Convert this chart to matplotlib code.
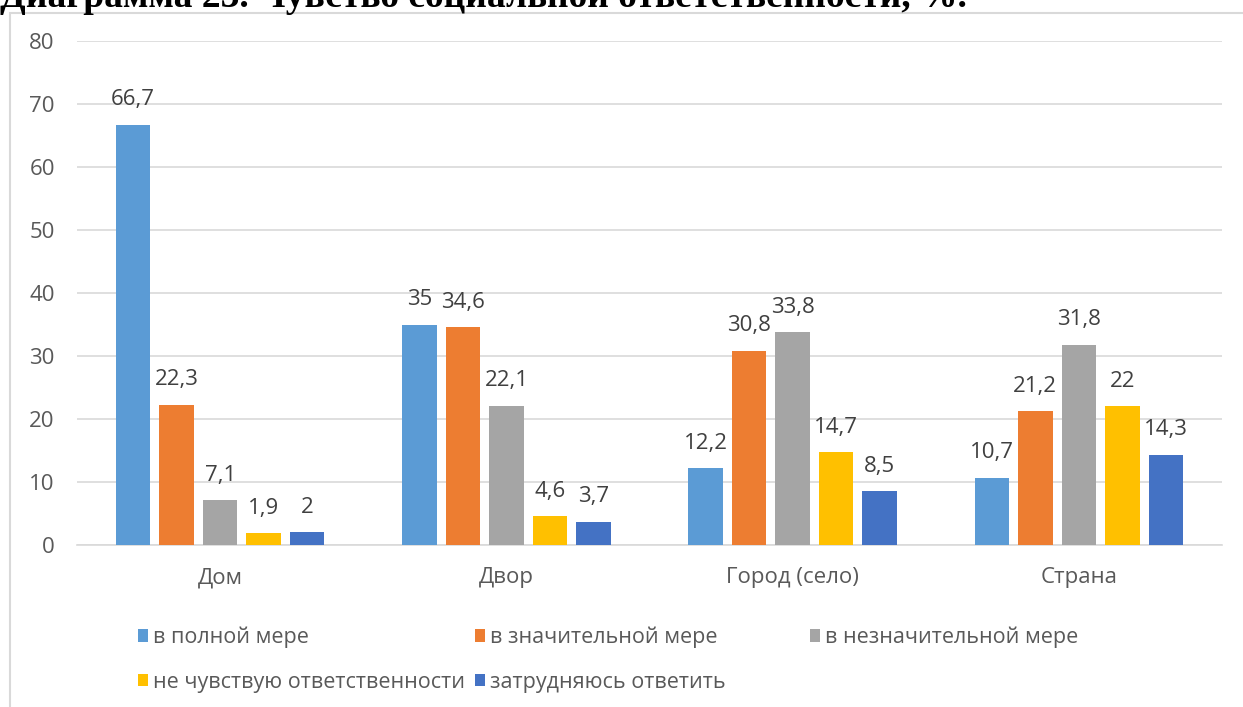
import numpy as np
import matplotlib.pyplot as plt
from matplotlib.patches import Rectangle

# Данные диаграммы
kategorii = ['Дом', 'Двор', 'Город (село)', 'Страна']
serii = ['в полной мере', 'в значительной мере', 'в незначительной мере',
         'не чувствую ответственности', 'затрудняюсь ответить']
polnaya = [66.7, 35, 12.2, 10.7]
znachit = [22.3, 34.6, 30.8, 21.2]
neznachit = [7.1, 22.1, 33.8, 31.8]
ne_chuvstvuyu = [1.9, 4.6, 14.7, 22]
zatrudnyayus = [2, 3.7, 8.5, 14.3]
znacheniya = [polnaya, znachit, neznachit, ne_chuvstvuyu, zatrudnyayus]
cveta = ['#5B9BD5', '#ED7D31', '#A5A5A5', '#FFC000', '#4472C4']

plt.rcParams['font.family'] = ['Open Sans', 'DejaVu Sans']
razmer = 16

fig = plt.figure(figsize=(12.43, 7.07), dpi=100)
W, H = 1243, 707

# Рамка области диаграммы
fig.patches.append(Rectangle((10 / W, -0.1), 1.2, 1 - 13 / H + 0.1,
                             transform=fig.transFigure, fill=False,
                             edgecolor='#D9D9D9', linewidth=1.5))

# Обрезанный заголовок сверху
fig.text(0, 1 - 7 / H, 'Диаграмма 23. Чувство социальной ответственности, %.',
         family='Liberation Serif', fontweight='bold', fontsize=27,
         va='baseline', ha='left', color='black')

ax = fig.add_axes([77 / W, 1 - 545 / H, (1222 - 77) / W, (545 - 41) / H])

x = np.arange(len(kategorii))
shag = 0.152
shirina = 0.12
bary = []
for i, (vals, c) in enumerate(zip(znacheniya, cveta)):
    pos = x + (i - 2) * shag
    b = ax.bar(pos, vals, shirina, color=c, label=serii[i], zorder=3)
    bary.append(b)
    for p, v in zip(pos, vals):
        ax.text(p, v + 2.3, str(v).replace('.', ','), ha='center', va='bottom',
                fontsize=razmer, color='#404040')

ax.set_xlim(-0.5, 3.5)
ax.set_ylim(0, 80)
ax.set_yticks(range(0, 81, 10))
ax.set_xticks(x)
ax.set_xticklabels(kategorii)
ax.grid(axis='y', color='#D9D9D9', linewidth=1.2, zorder=0)
for s in ax.spines.values():
    s.set_visible(False)
ax.spines['bottom'].set_visible(True)
ax.spines['bottom'].set_color('#D9D9D9')
ax.spines['bottom'].set_linewidth(1.2)
ax.tick_params(axis='both', length=0, labelsize=razmer, labelcolor='#595959')
ax.tick_params(axis='y', pad=16)
ax.tick_params(axis='x', pad=16)

# Легенда: три колонки одинаковой ширины, заполнение по строкам
kolonki = [[0, 3], [1, 4], [2]]
x_kolonok = [129, 466, 801]
for idx, xk in zip(kolonki, x_kolonok):
    fig.legend([bary[i] for i in idx], [serii[i] for i in idx],
               ncol=1, loc='upper left', bbox_to_anchor=(xk / W, 1 - 618 / H),
               frameon=False, fontsize=15.5, labelcolor='#595959',
               handlelength=0.5, handleheight=0.5, handletextpad=0.2,
               labelspacing=1.1, borderaxespad=0)

fig.savefig('out.png', dpi=100)
